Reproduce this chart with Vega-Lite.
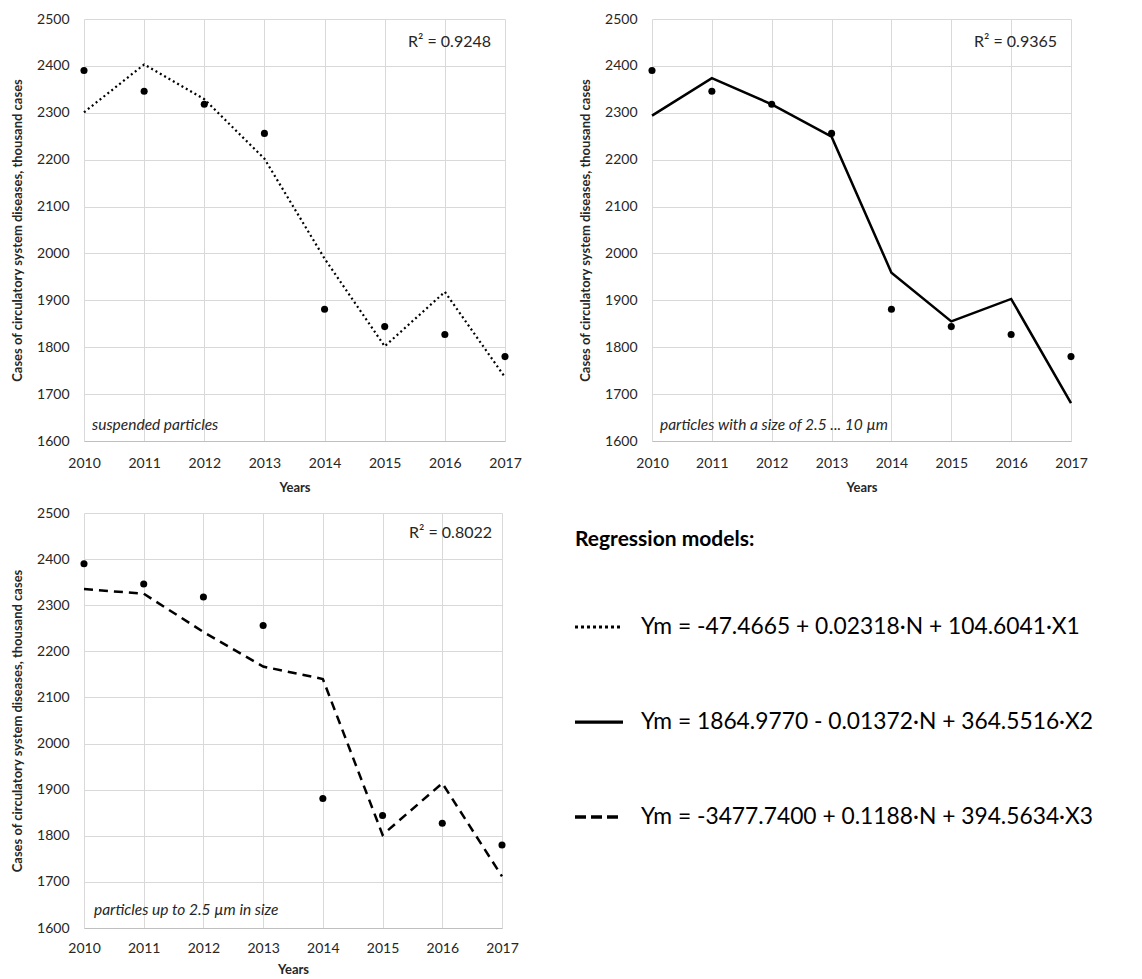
{
  "$schema": "https://vega.github.io/schema/vega-lite/v6.json",
  "background": "white",
  "padding": {"left": 11, "top": 12, "right": 0, "bottom": 0},
  "config": {
    "font": "Lato",
    "view": {"stroke": null},
    "axis": {
      "gridColor": "#d9d9d9",
      "gridWidth": 1,
      "domainColor": "#bfbfbf",
      "ticks": false,
      "labelFont": "Lato",
      "labelFontSize": 14,
      "labelColor": "#262626",
      "titleFont": "Lato",
      "titleColor": "#262626",
      "titleFontWeight": "bold",
      "titleFontSize": 13,
      "labelOverlap": false,
      "labelFlush": false
    }
  },
  "datasets": {
    "obs": [
      {"year": 2010, "cases": 2390},
      {"year": 2011, "cases": 2346},
      {"year": 2012, "cases": 2318},
      {"year": 2013, "cases": 2256},
      {"year": 2014, "cases": 1881},
      {"year": 2015, "cases": 1844},
      {"year": 2016, "cases": 1827},
      {"year": 2017, "cases": 1780}
    ],
    "fit": [
      {"model": "X1", "year": 2010, "cases": 2301},
      {"model": "X1", "year": 2011, "cases": 2403},
      {"model": "X1", "year": 2012, "cases": 2329},
      {"model": "X1", "year": 2013, "cases": 2202},
      {"model": "X1", "year": 2014, "cases": 1989},
      {"model": "X1", "year": 2015, "cases": 1802},
      {"model": "X1", "year": 2016, "cases": 1918},
      {"model": "X1", "year": 2017, "cases": 1736},
      {"model": "X2", "year": 2010, "cases": 2294},
      {"model": "X2", "year": 2011, "cases": 2374},
      {"model": "X2", "year": 2012, "cases": 2318},
      {"model": "X2", "year": 2013, "cases": 2249},
      {"model": "X2", "year": 2014, "cases": 1959},
      {"model": "X2", "year": 2015, "cases": 1855},
      {"model": "X2", "year": 2016, "cases": 1903},
      {"model": "X2", "year": 2017, "cases": 1681},
      {"model": "X3", "year": 2010, "cases": 2335},
      {"model": "X3", "year": 2011, "cases": 2325},
      {"model": "X3", "year": 2012, "cases": 2242},
      {"model": "X3", "year": 2013, "cases": 2167},
      {"model": "X3", "year": 2014, "cases": 2140},
      {"model": "X3", "year": 2015, "cases": 1802},
      {"model": "X3", "year": 2016, "cases": 1914},
      {"model": "X3", "year": 2017, "cases": 1712}
    ],
    "notes": [
      {"model": "X1", "r2": "R² = 0.9248", "label": "suspended particles"},
      {"model": "X2", "r2": "R² = 0.9365", "label": "particles with a size of 2.5 ... 10 µm"},
      {"model": "X3", "r2": "R² = 0.8022", "label": "particles up to 2.5 µm in size"}
    ],
    "equations": [
      {"model": "X1", "rank": 1, "equation": "Ym = -47.4665 + 0.02318·N + 104.6041·X1"},
      {"model": "X2", "rank": 2, "equation": "Ym = 1864.9770 - 0.01372·N + 364.5516·X2"},
      {"model": "X3", "rank": 3, "equation": "Ym = -3477.7400 + 0.1188·N + 394.5634·X3"}
    ],
    "header": [
      {"text": "Regression models:"}
    ]
  },
  "vconcat": [
    {
      "hconcat": [
        {
          "width": 421,
          "height": 422,
          "layer": [
            {
              "data": {"name": "fit"},
              "transform": [{"filter": "datum.model === 'X1'"}],
              "mark": {"type": "line", "color": "black", "strokeWidth": 2.2, "strokeDash": [2, 3]},
              "encoding": {
                "x": {"field": "year", "type": "quantitative", "scale": {"domain": [2010, 2017], "nice": false}, "axis": {"values": [2010, 2011, 2012, 2013, 2014, 2015, 2016, 2017], "format": "d", "title": "Years", "labelPadding": 15, "titlePadding": 11, "domain": true}},
                "y": {"field": "cases", "type": "quantitative", "scale": {"domain": [1600, 2500], "nice": false, "zero": false}, "axis": {"values": [1600, 1700, 1800, 1900, 2000, 2100, 2200, 2300, 2400, 2500], "format": "d", "title": "Cases of circulatory system diseases, thousand cases", "labelPadding": 15, "titlePadding": 12, "domain": false}}
              }
            },
            {
              "data": {"name": "obs"},
              "mark": {"type": "circle", "color": "black", "opacity": 1, "size": 50},
              "encoding": {
                "x": {"field": "year", "type": "quantitative"},
                "y": {"field": "cases", "type": "quantitative"}
              }
            },
            {
              "data": {"name": "notes"},
              "transform": [{"filter": "datum.model === 'X1'"}],
              "mark": {"type": "text", "align": "right", "baseline": "middle", "fontSize": 16, "dx": -14, "color": "#262626"},
              "encoding": {
                "x": {"datum": 2017, "type": "quantitative"},
                "y": {"datum": 2451, "type": "quantitative"},
                "text": {"field": "r2"}
              }
            },
            {
              "data": {"name": "notes"},
              "transform": [{"filter": "datum.model === 'X1'"}],
              "mark": {"type": "text", "align": "left", "baseline": "middle", "fontSize": 15.5, "fontStyle": "italic", "dx": 8, "color": "#262626"},
              "encoding": {
                "x": {"datum": 2010, "type": "quantitative"},
                "y": {"datum": 1634, "type": "quantitative"},
                "text": {"field": "label"}
              }
            }
          ]
        },
        {
          "width": 419,
          "height": 422,
          "layer": [
            {
              "data": {"name": "fit"},
              "transform": [{"filter": "datum.model === 'X2'"}],
              "mark": {"type": "line", "color": "black", "strokeWidth": 2.5},
              "encoding": {
                "x": {"field": "year", "type": "quantitative", "scale": {"domain": [2010, 2017], "nice": false}, "axis": {"values": [2010, 2011, 2012, 2013, 2014, 2015, 2016, 2017], "format": "d", "title": "Years", "labelPadding": 15, "titlePadding": 11, "domain": true}},
                "y": {"field": "cases", "type": "quantitative", "scale": {"domain": [1600, 2500], "nice": false, "zero": false}, "axis": {"values": [1600, 1700, 1800, 1900, 2000, 2100, 2200, 2300, 2400, 2500], "format": "d", "title": "Cases of circulatory system diseases, thousand cases", "labelPadding": 15, "titlePadding": 12, "domain": false}}
              }
            },
            {
              "data": {"name": "obs"},
              "mark": {"type": "circle", "color": "black", "opacity": 1, "size": 50},
              "encoding": {
                "x": {"field": "year", "type": "quantitative"},
                "y": {"field": "cases", "type": "quantitative"}
              }
            },
            {
              "data": {"name": "notes"},
              "transform": [{"filter": "datum.model === 'X2'"}],
              "mark": {"type": "text", "align": "right", "baseline": "middle", "fontSize": 16, "dx": -14, "color": "#262626"},
              "encoding": {
                "x": {"datum": 2017, "type": "quantitative"},
                "y": {"datum": 2451, "type": "quantitative"},
                "text": {"field": "r2"}
              }
            },
            {
              "data": {"name": "notes"},
              "transform": [{"filter": "datum.model === 'X2'"}],
              "mark": {"type": "text", "align": "left", "baseline": "middle", "fontSize": 15.5, "fontStyle": "italic", "dx": 8, "color": "#262626"},
              "encoding": {
                "x": {"datum": 2010, "type": "quantitative"},
                "y": {"datum": 1634, "type": "quantitative"},
                "text": {"field": "label"}
              }
            }
          ]
        }
      ],
      "spacing": 147,
      "bounds": "flush"
    },
    {
      "hconcat": [
        {
          "width": 418,
          "height": 415,
          "layer": [
            {
              "data": {"name": "fit"},
              "transform": [{"filter": "datum.model === 'X3'"}],
              "mark": {"type": "line", "color": "black", "strokeWidth": 2.5, "strokeDash": [9, 6]},
              "encoding": {
                "x": {"field": "year", "type": "quantitative", "scale": {"domain": [2010, 2017], "nice": false}, "axis": {"values": [2010, 2011, 2012, 2013, 2014, 2015, 2016, 2017], "format": "d", "title": "Years", "labelPadding": 13, "titlePadding": 8, "domain": true}},
                "y": {"field": "cases", "type": "quantitative", "scale": {"domain": [1600, 2500], "nice": false, "zero": false}, "axis": {"values": [1600, 1700, 1800, 1900, 2000, 2100, 2200, 2300, 2400, 2500], "format": "d", "title": "Cases of circulatory system diseases, thousand cases", "labelPadding": 15, "titlePadding": 12, "domain": false}}
              }
            },
            {
              "data": {"name": "obs"},
              "mark": {"type": "circle", "color": "black", "opacity": 1, "size": 50},
              "encoding": {
                "x": {"field": "year", "type": "quantitative"},
                "y": {"field": "cases", "type": "quantitative"}
              }
            },
            {
              "data": {"name": "notes"},
              "transform": [{"filter": "datum.model === 'X3'"}],
              "mark": {"type": "text", "align": "right", "baseline": "middle", "fontSize": 16, "dx": -10, "color": "#262626"},
              "encoding": {
                "x": {"datum": 2017, "type": "quantitative"},
                "y": {"datum": 2457, "type": "quantitative"},
                "text": {"field": "r2"}
              }
            },
            {
              "data": {"name": "notes"},
              "transform": [{"filter": "datum.model === 'X3'"}],
              "mark": {"type": "text", "align": "left", "baseline": "middle", "fontSize": 15.5, "fontStyle": "italic", "dx": 10, "color": "#262626"},
              "encoding": {
                "x": {"datum": 2010, "type": "quantitative"},
                "y": {"datum": 1639, "type": "quantitative"},
                "text": {"field": "label"}
              }
            }
          ]
        },
        {
          "width": 560,
          "height": 415,
          "layer": [
            {
              "data": {"name": "header"},
              "mark": {"type": "text", "align": "left", "baseline": "middle", "fontSize": 21, "fontWeight": "bold", "dy": 8, "color": "black"},
              "encoding": {
                "x": {"datum": 0, "type": "quantitative", "scale": {"domain": [0, 560], "nice": false, "zero": false}, "axis": null},
                "y": {"datum": 0, "type": "quantitative", "scale": {"domain": [-0.2, 4.168], "nice": false, "zero": false, "reverse": true}, "axis": null},
                "text": {"field": "text"}
              }
            },
            {
              "data": {"name": "equations"},
              "mark": {"type": "rule", "color": "black"},
              "encoding": {
                "x": {"datum": 0, "type": "quantitative"},
                "x2": {"datum": 48},
                "y": {"field": "rank", "type": "quantitative"},
                "strokeDash": {"field": "model", "type": "nominal", "scale": {"domain": ["X1", "X2", "X3"], "range": [[3, 3], [1, 0], [11, 5]]}, "legend": null},
                "strokeWidth": {"field": "model", "type": "nominal", "scale": {"domain": ["X1", "X2", "X3"], "range": [3, 3.5, 4]}, "legend": null}
              }
            },
            {
              "data": {"name": "equations"},
              "mark": {"type": "text", "align": "left", "baseline": "middle", "fontSize": 22.8, "color": "black"},
              "encoding": {
                "x": {"datum": 66, "type": "quantitative"},
                "y": {"field": "rank", "type": "quantitative"},
                "text": {"field": "equation"}
              }
            }
          ]
        }
      ],
      "spacing": 73,
      "bounds": "flush"
    }
  ],
  "spacing": 12
}
